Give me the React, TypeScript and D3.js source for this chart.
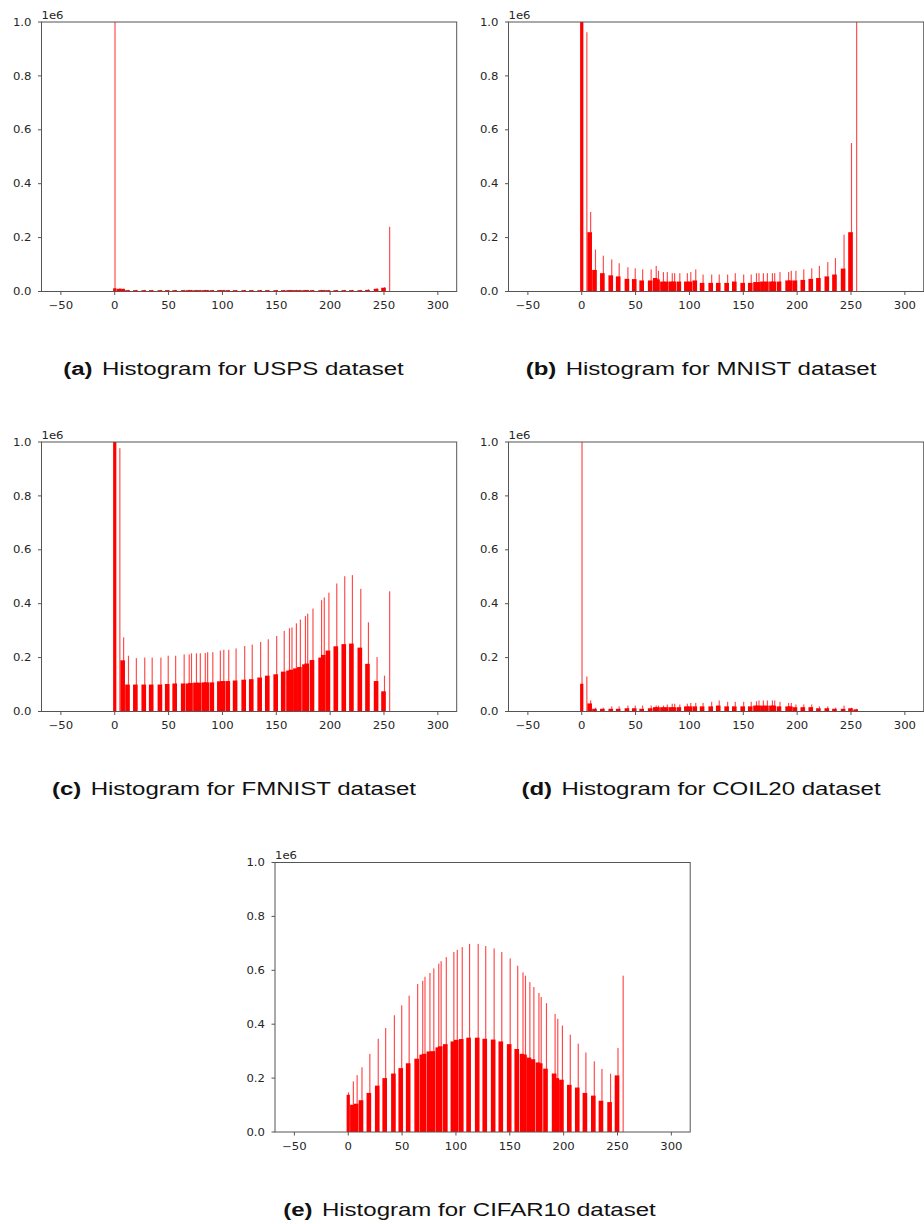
import React from "react";
import * as d3 from "d3";

// Shared bin-group positions (pixel-intensity values) where the visible spikes sit
const GROUP_X = [0, 4.5, 8, 12.5, 19.8, 27.6, 34.5, 42.6, 49.4, 56.3, 64.2, 68.9, 71, 75.6, 79.2, 83.8, 86, 90.8, 97.8, 101, 105.6, 112.4, 120.4, 127.4, 135.2, 142.3, 150.1, 157.1, 162, 164.3, 168.4, 172.1, 176.8, 178.9, 183.8, 191.8, 194.3, 198.6, 205.9, 213.3, 220.4, 228.2, 235.3, 243.3, 250.2, 255];

// Counts in millions (axis offset 1e6)
const USPS_SPIKE = [1.2, 0.012, 0.01, 0.006, 0.006, 0.006, 0.006, 0.006, 0.006, 0.006, 0.006, 0.006, 0.006, 0.006, 0.006, 0.006, 0.006, 0.006, 0.006, 0.006, 0.006, 0.006, 0.006, 0.006, 0.006, 0.006, 0.006, 0.006, 0.006, 0.006, 0.006, 0.006, 0.006, 0.006, 0.006, 0.006, 0.006, 0.006, 0.006, 0.006, 0.006, 0.006, 0.008, 0.012, 0.016, 0.24];
const USPS_BASE = [0.012, 0.01, 0.01, 0.005, 0.005, 0.005, 0.005, 0.005, 0.005, 0.005, 0.005, 0.005, 0.005, 0.005, 0.005, 0.005, 0.005, 0.005, 0.005, 0.005, 0.005, 0.005, 0.005, 0.005, 0.005, 0.005, 0.005, 0.005, 0.005, 0.005, 0.005, 0.005, 0.005, 0.005, 0.005, 0.005, 0.005, 0.005, 0.005, 0.005, 0.005, 0.005, 0.006, 0.01, 0.014, 0];

const MNIST_SPIKE = [1.2, 0.962, 0.295, 0.156, 0.133, 0.119, 0.105, 0.09, 0.086, 0.082, 0.082, 0.095, 0.077, 0.072, 0.072, 0.068, 0.068, 0.068, 0.068, 0.072, 0.082, 0.063, 0.063, 0.063, 0.063, 0.068, 0.063, 0.063, 0.068, 0.068, 0.068, 0.068, 0.068, 0.068, 0.072, 0.072, 0.077, 0.077, 0.082, 0.086, 0.095, 0.109, 0.124, 0.211, 0.551, 1.2];
const MNIST_BASE = [1.2, 0, 0.22, 0.08, 0.068, 0.06, 0.056, 0.047, 0.046, 0.041, 0.041, 0.05, 0.045, 0.037, 0.037, 0.037, 0.037, 0.037, 0.037, 0.037, 0.041, 0.032, 0.032, 0.032, 0.032, 0.037, 0.032, 0.032, 0.035, 0.035, 0.037, 0.037, 0.037, 0.037, 0.037, 0.041, 0.041, 0.041, 0.043, 0.047, 0.05, 0.056, 0.063, 0.085, 0.22, 0];

const FMNIST_SPIKE = [1.2, 0.977, 0.275, 0.207, 0.198, 0.2, 0.2, 0.2, 0.207, 0.207, 0.212, 0.212, 0.216, 0.216, 0.216, 0.217, 0.22, 0.22, 0.226, 0.229, 0.229, 0.234, 0.243, 0.248, 0.258, 0.268, 0.28, 0.299, 0.309, 0.312, 0.327, 0.341, 0.354, 0.363, 0.382, 0.413, 0.423, 0.441, 0.475, 0.502, 0.506, 0.455, 0.331, 0.202, 0.133, 0.446];
const FMNIST_BASE = [1.2, 0, 0.19, 0.1, 0.1, 0.1, 0.1, 0.1, 0.102, 0.104, 0.104, 0.104, 0.106, 0.107, 0.107, 0.108, 0.108, 0.108, 0.112, 0.113, 0.113, 0.115, 0.118, 0.12, 0.126, 0.133, 0.138, 0.148, 0.152, 0.155, 0.16, 0.165, 0.175, 0.178, 0.191, 0.2, 0.21, 0.226, 0.242, 0.25, 0.252, 0.237, 0.177, 0.113, 0.075, 0];

const COIL_SPIKE = [1.2, 0.13, 0.041, 0.014, 0.014, 0.019, 0.019, 0.022, 0.022, 0.022, 0.022, 0.022, 0.022, 0.022, 0.026, 0.029, 0.029, 0.026, 0.029, 0.032, 0.032, 0.032, 0.036, 0.041, 0.036, 0.036, 0.036, 0.036, 0.038, 0.041, 0.041, 0.041, 0.041, 0.041, 0.036, 0.032, 0.032, 0.026, 0.026, 0.026, 0.019, 0.019, 0.014, 0.022, 0.014, 0.01];
const COIL_BASE = [0.103, 0, 0.03, 0.01, 0.01, 0.01, 0.01, 0.012, 0.012, 0.01, 0.012, 0.016, 0.016, 0.016, 0.016, 0.016, 0.016, 0.016, 0.019, 0.019, 0.019, 0.019, 0.019, 0.022, 0.019, 0.019, 0.019, 0.019, 0.022, 0.022, 0.022, 0.022, 0.022, 0.022, 0.019, 0.019, 0.019, 0.016, 0.016, 0.016, 0.012, 0.012, 0.01, 0.01, 0.012, 0.008];

const CIFAR_SPIKE = [0.147, 0.188, 0.211, 0.24, 0.29, 0.346, 0.386, 0.433, 0.47, 0.506, 0.549, 0.561, 0.576, 0.59, 0.607, 0.625, 0.634, 0.649, 0.668, 0.676, 0.686, 0.698, 0.698, 0.69, 0.681, 0.668, 0.644, 0.617, 0.592, 0.58, 0.556, 0.538, 0.516, 0.501, 0.478, 0.438, 0.42, 0.395, 0.361, 0.328, 0.295, 0.262, 0.234, 0.216, 0.312, 0.58];
const CIFAR_BASE = [0.138, 0.101, 0.105, 0.118, 0.145, 0.172, 0.2, 0.217, 0.237, 0.255, 0.272, 0.287, 0.29, 0.299, 0.3, 0.314, 0.318, 0.326, 0.336, 0.342, 0.345, 0.35, 0.35, 0.346, 0.343, 0.336, 0.326, 0.308, 0.29, 0.287, 0.276, 0.27, 0.258, 0.255, 0.235, 0.217, 0.2, 0.194, 0.175, 0.165, 0.145, 0.135, 0.116, 0.111, 0.21, 0];

const X_TICKS = [-50, 0, 50, 100, 150, 200, 250, 300];
const Y_TICKS = [0, 0.2, 0.4, 0.6, 0.8, 1.0];
const X_DOMAIN = [-68, 317.5];
const Y_DOMAIN = [0, 1];

const PANEL_W = 415.2;
const PANEL_H = 269.5;
const TICK_FONT = "DejaVu Sans, sans-serif";
const CAP_FONT = "Liberation Sans, Arial, Helvetica, sans-serif";
const FRAME = "#555";
const TXT = "#262626";
const SX = 1.18;

function STxt({ x, y, anchor, children, size = 9.9 }: any) {
  return (
    <g transform={`translate(${x},${y}) scale(${SX},1)`}>
      <text x={0} y={0} textAnchor={anchor} fontFamily={TICK_FONT} fontSize={size} fill={TXT}>
        {children}
      </text>
    </g>
  );
}

function Panel({ id, left, top, spikes, bases, letter, title, capX, capY }: any) {
  const x = d3.scaleLinear().domain(X_DOMAIN).range([left, left + PANEL_W]);
  const y = d3.scaleLinear().domain(Y_DOMAIN).range([top + PANEL_H, top]);
  const bottom = top + PANEL_H;
  const fmt = d3.format(".1f");
  return (
    <g>
      <defs>
        <clipPath id={`clip-${id}`}>
          <rect x={left} y={top} width={PANEL_W} height={PANEL_H} />
        </clipPath>
      </defs>
      <g clipPath={`url(#clip-${id})`}>
        {GROUP_X.map((g, i) => {
          const b = bases[i];
          if (!b) return null;
          const x0 = x(Math.max(g - 2.8, -1.5));
          const x1 = x(g + 1.5);
          return <rect key={`b${i}`} x={x0} y={y(b)} width={x1 - x0} height={bottom - y(b)} fill="#ff0000" />;
        })}
        {GROUP_X.map((g, i) => {
          const s = spikes[i];
          if (!s) return null;
          return (
            <rect key={`s${i}`} x={x(g) - 0.3} y={y(s)} width={1.15} height={bottom - y(s)} fill="#ff0000" fillOpacity={0.72} />
          );
        })}
      </g>
      <rect x={left} y={top} width={PANEL_W} height={PANEL_H} fill="none" stroke={FRAME} strokeWidth={1} />
      {X_TICKS.map((t) => (
        <g key={`xt${t}`}>
          <line x1={x(t)} x2={x(t)} y1={bottom} y2={bottom + 3.5} stroke={FRAME} strokeWidth={1} />
          <STxt x={x(t)} y={bottom + 17.5} anchor="middle">
            {t < 0 ? `\u2212${Math.abs(t)}` : `${t}`}
          </STxt>
        </g>
      ))}
      {Y_TICKS.map((t) => (
        <g key={`yt${t}`}>
          <line x1={left - 3.5} x2={left} y1={y(t)} y2={y(t)} stroke={FRAME} strokeWidth={1} />
          <STxt x={left - 10} y={y(t) + 3.6} anchor="end">
            {fmt(t)}
          </STxt>
        </g>
      ))}
      <STxt x={left} y={top - 3.5} anchor="start">1e6</STxt>
      <g transform={`translate(${capX},${capY}) scale(1.3,1)`}>
        <text x={0} y={0} textAnchor="middle" fontFamily={CAP_FONT} fontSize={18.5} fill="#111" style={{ whiteSpace: "pre" }}>
          <tspan fontWeight="bold">{letter}</tspan>
          <tspan dx={2}>{` ${title}`}</tspan>
        </text>
      </g>
    </g>
  );
}

export default function App() {
  return (
    <svg width={924} height={1224} style={{ position: "absolute", left: 0, top: 0, background: "#fff" }}>
      <rect x={0} y={0} width={924} height={1224} fill="#fff" />
      <Panel id="a" left={41.5} top={22} spikes={USPS_SPIKE} bases={USPS_BASE} letter="(a)" title="Histogram for USPS dataset" capX={233.5} capY={375} />
      <Panel id="b" left={508.5} top={22} spikes={MNIST_SPIKE} bases={MNIST_BASE} letter="(b)" title="Histogram for MNIST dataset" capX={701} capY={375} />
      <Panel id="c" left={41.5} top={442} spikes={FMNIST_SPIKE} bases={FMNIST_BASE} letter="(c)" title="Histogram for FMNIST dataset" capX={234} capY={795} />
      <Panel id="d" left={508.5} top={442} spikes={COIL_SPIKE} bases={COIL_BASE} letter="(d)" title="Histogram for COIL20 dataset" capX={701} capY={795} />
      <Panel id="e" left={275} top={862.5} spikes={CIFAR_SPIKE} bases={CIFAR_BASE} letter="(e)" title="Histogram for CIFAR10 dataset" capX={469.5} capY={1216} />
    </svg>
  );
}
